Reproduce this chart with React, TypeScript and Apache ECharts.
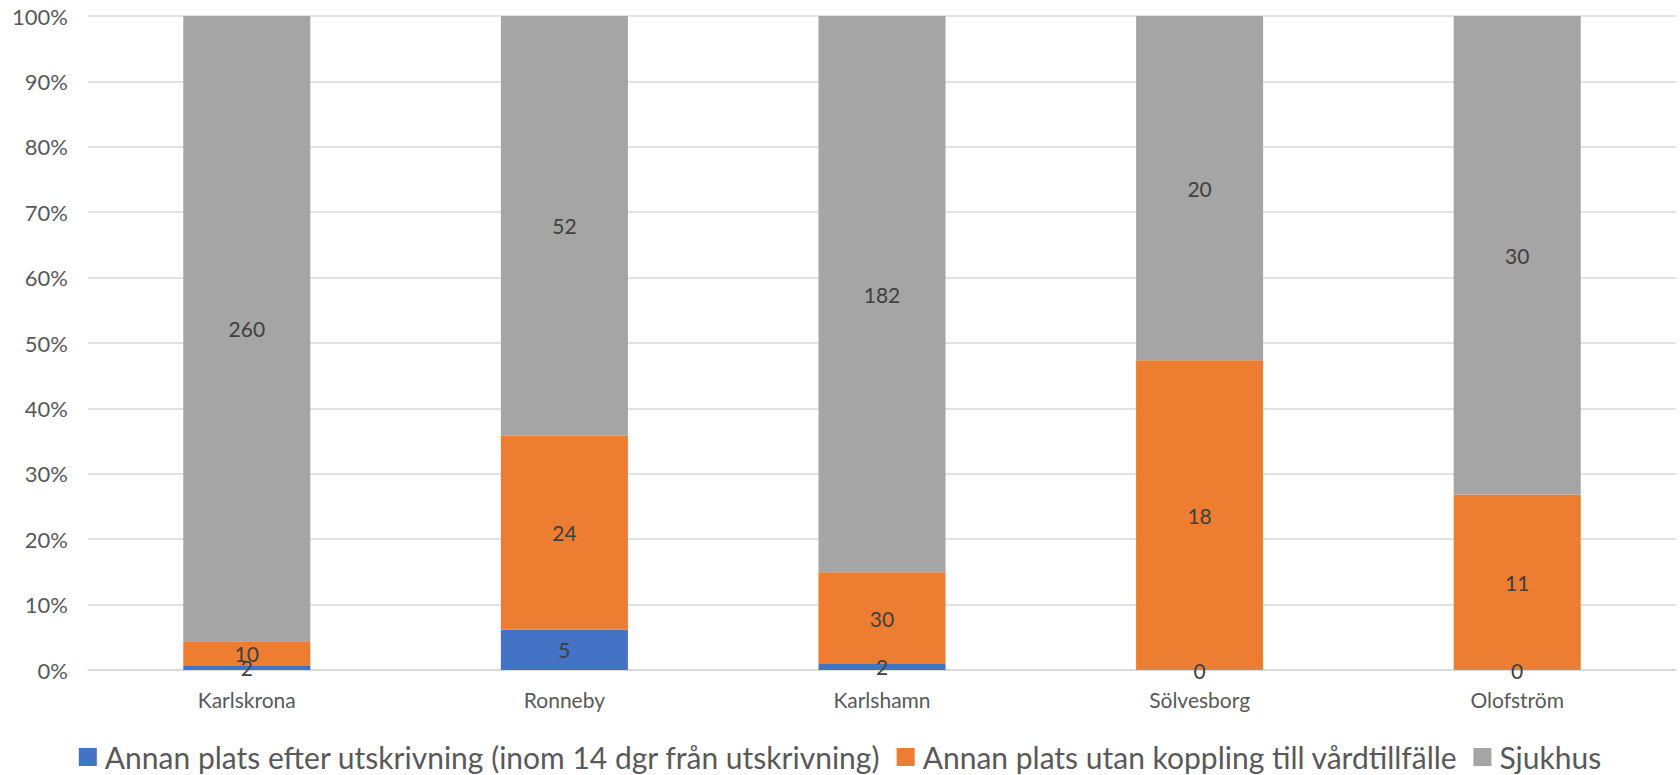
import React, { useEffect, useRef } from "react";
import * as echarts from "echarts";

const categories = ["Karlskrona", "Ronneby", "Karlshamn", "Sölvesborg", "Olofström"];
const seriesNames = [
  "Annan plats efter utskrivning (inom 14 dgr från utskrivning)",
  "Annan plats utan koppling till vårdtillfälle",
  "Sjukhus",
];
const efterUtskrivning = [2, 5, 2, 0, 0];
const utanKoppling = [10, 24, 30, 18, 11];
const sjukhus = [260, 52, 182, 20, 30];
const colors = ["#4472C4", "#ED7D31", "#A5A5A5"];

const FONT = "Lato, 'Open Sans', sans-serif";

export default function App() {
  const ref = useRef<HTMLDivElement>(null);
  useEffect(() => {
    if (!ref.current) return;
    const chart = echarts.init(ref.current, undefined, { renderer: "svg" });
    const raw = [efterUtskrivning, utanKoppling, sjukhus];
    const totals = categories.map((_, i) => raw.reduce((s, arr) => s + arr[i], 0));
    const series = raw.map((arr, si) => ({
      name: seriesNames[si],
      type: "bar",
      stack: "total",
      barWidth: "40%",
      itemStyle: { color: colors[si] },
      label: {
        show: true,
        position: "inside",
        color: "#404040",
        fontSize: 21,
        fontFamily: FONT,
        formatter: (p: any) => String(arr[p.dataIndex]),
      },
      data: arr.map((v, i) => (v / totals[i]) * 100),
    }));
    chart.setOption({
      animation: false,
      textStyle: { fontFamily: FONT },
      grid: { left: 88, right: 4, top: 16, bottom: 105, containLabel: false },
      xAxis: {
        type: "category",
        data: categories,
        axisLine: { lineStyle: { color: "#D9D9D9", width: 1.5 } },
        axisTick: { show: false },
        axisLabel: { color: "#595959", fontSize: 21, margin: 19, fontFamily: FONT },
      },
      yAxis: {
        type: "value",
        min: 0,
        max: 100,
        interval: 10,
        axisLine: { show: false },
        axisTick: { show: false },
        splitLine: { lineStyle: { color: "#D9D9D9", width: 1.5 } },
        axisLabel: {
          color: "#595959",
          fontSize: 22,
          margin: 20,
          fontFamily: FONT,
          formatter: "{value}%",
        },
      },
      legend: {
        top: 737,
        left: "center",
        icon: "rect",
        itemWidth: 18,
        itemHeight: 18,
        itemGap: 16,
        textStyle: { color: "#595959", fontSize: 30, fontFamily: FONT, padding: [0, 0, 0, 3] },
        data: seriesNames,
      },
      series,
    });
    return () => chart.dispose();
  }, []);
  return (
    <div
      ref={ref}
      style={{ position: "fixed", left: 0, top: 0, width: 1680, height: 775, background: "#fff" }}
    />
  );
}
